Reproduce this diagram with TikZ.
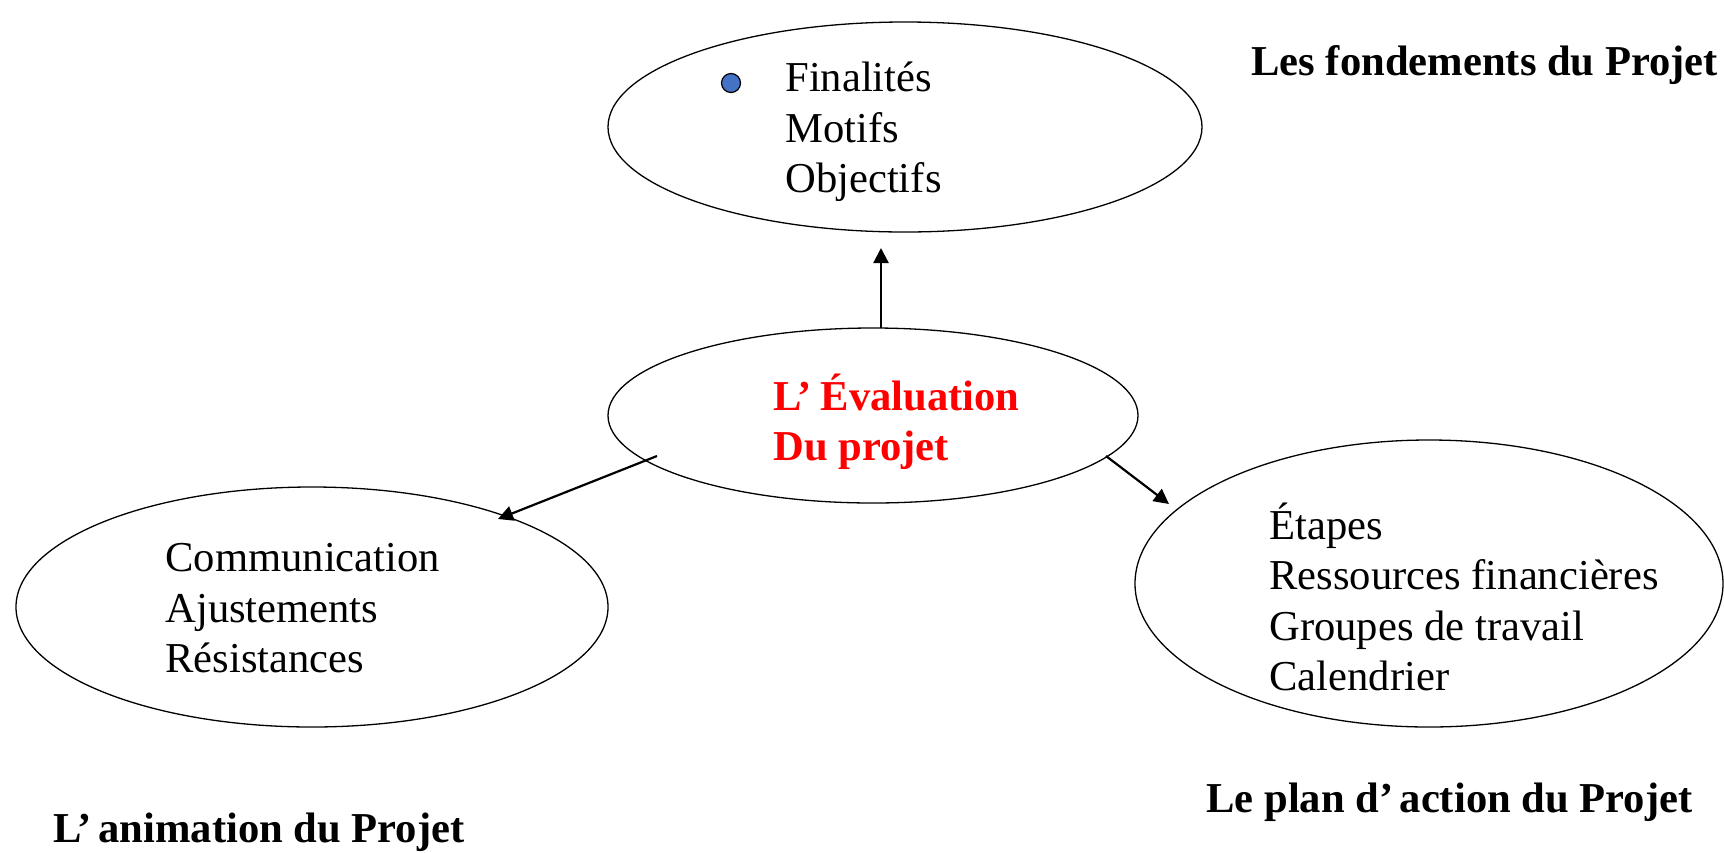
\documentclass[tikz,border=0pt]{standalone}
\usepackage{fontspec}
\setmainfont{Liberation Serif}
\usetikzlibrary{shapes.geometric,arrows.meta}
\definecolor{dotblue}{HTML}{4472C4}
\newcommand{\lines}[1]{\begin{tabular}[t]{@{}l@{}}#1\end{tabular}}
\begin{document}
\begin{tikzpicture}[x=0.5pt,y=-0.5pt,
  bubble/.style={draw,line width=0.65pt,ellipse,inner sep=0pt},
  txt/.style={anchor=base west,inner sep=0pt,font=\fontsize{21.3}{25.25}\selectfont},
  heading/.style={txt,font=\fontsize{21.3}{25.25}\selectfont\bfseries},
  link/.style={line width=1.1pt,-{Triangle[length=7.5pt,width=7.5pt]}}]
\useasboundingbox (0,0) rectangle (1724,852);

% ellipses
\node[bubble,minimum width=297pt,minimum height=105pt] (top) at (905,127) {};
\node[bubble,minimum width=265pt,minimum height=87.5pt] (ctr) at (873,415.5) {};
\node[bubble,minimum width=296pt,minimum height=120pt] (lft) at (312,607) {};
\node[bubble,minimum width=294pt,minimum height=143.5pt] (rgt) at (1429,583.5) {};

% contents
\node[circle,draw,fill=dotblue,line width=0.6pt,minimum size=9.5pt,inner sep=0pt] (dot) at (731,83) {};
\node[txt] (toptxt) at (785,91.7) {\lines{Finalités\\Motifs\\Objectifs}};
\node[txt,font=\fontsize{21.3}{25}\selectfont\bfseries,text=red] (ctrtxt) at (773,410) {\lines{L’\hspace{0.2em}Évaluation\\Du projet}};
\node[txt] (lfttxt) at (165,571.7) {\lines{Communication\\Ajustements\\Résistances}};
\node[txt] (rgttxt) at (1269,539) {\lines{Étapes\\Ressources financières\\Groupes de travail\\Calendrier}};

% headings
\node[heading] (h1) at (1251,75) {Les fondements du Projet};
\node[heading] (h2) at (53,842) {L’\hspace{0.15em}animation du Projet};
\node[heading] (h3) at (1206,812) {Le plan d’\hspace{0.15em}action du Projet};

% connectors
\coordinate (u1) at (881,328);
\coordinate (u2) at (881,248);
\coordinate (l1) at (657,456);
\coordinate (l2) at (498,519);
\coordinate (r1) at (1106,456);
\coordinate (r2) at (1169,504);
\draw[link] (u1) -- (u2);
\draw[link] (l1) -- (l2);
\draw[link] (r1) -- (r2);
\end{tikzpicture}
\end{document}
